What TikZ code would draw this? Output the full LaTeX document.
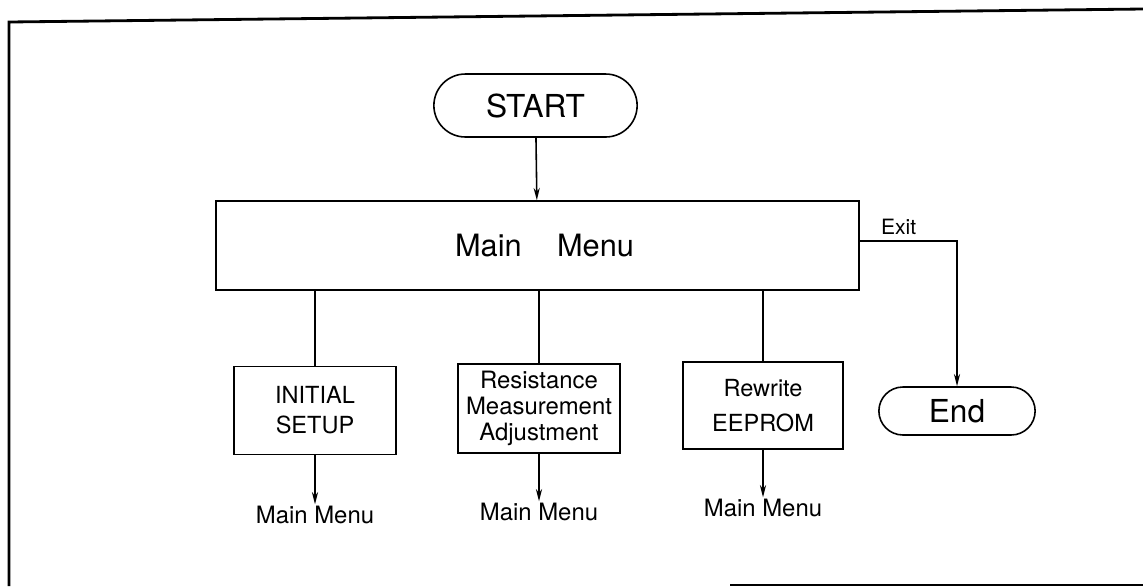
\documentclass[tikz,border=0pt]{standalone}
\usepackage{fontspec}
\setmainfont{TeX Gyre Heros}
\usepackage{tikz}
\usetikzlibrary{positioning,shapes.misc,arrows.meta,calc}
\tikzstyle{term} = [rounded rectangle, draw=black, line width=0.9pt, minimum width=4.3cm, minimum height=1.26cm, font=\fontsize{18}{20}\selectfont]
\tikzstyle{process} = [rectangle, draw=black, line width=0.9pt, minimum width=3.25cm, minimum height=1.76cm, align=center, inner sep=1pt, font=\fontsize{13.4}{17}\selectfont]
\tikzstyle{back} = [inner sep=1pt, font=\fontsize{13.6}{15}\selectfont]
\tikzstyle{arrow} = [line width=0.9pt,-{Stealth[length=7pt,width=3.5pt]}]
\tikzstyle{link} = [line width=0.9pt]

\begin{document}
\begin{tikzpicture}[x=0.02cm, y=-0.02cm]
    \useasboundingbox (0,0) rectangle (1143,586);
    % frame of the sheet
    \draw[line width=1.6pt] (9,586) -- (9,22) -- (1143,9);
    \draw[line width=1.6pt] (730,585) -- (1143,585);

    \node (start) [term] at (535.5,105.5) {START};
    \node (menu) [rectangle, draw=black, line width=0.9pt, minimum width=12.86cm, minimum height=1.78cm,
                  font=\fontsize{17.5}{19}\selectfont] at (537.5,245.5) {\hspace{8pt}Main\hspace{1.15em}Menu};
    \node (init) [process] at (315,410.5) {INITIAL\\SETUP};
    \node (resist) [process, minimum width=3.24cm, minimum height=1.78cm,
                    font=\fontsize{13.6}{14.8}\selectfont] at (539,408.5) {Resistance\\Measurement\\Adjustment};
    \node (rewrite) [process, minimum width=3.2cm, minimum height=1.74cm,
                     font=\fontsize{13.4}{20}\selectfont] at (763,405.5) {Rewrite\\EEPROM};
    \node (end) [term, minimum width=3.36cm, minimum height=0.96cm] at (957,411) {End};

    \node (back1) [back, below=0.98cm of init] {Main Menu};
    \node (back2) [back, below=0.95cm of resist] {Main Menu};
    \node (back3) [back, below=0.95cm of rewrite] {Main Menu};

    \draw[arrow] (start) -- (menu);
    \draw[link] (init.north |- menu.south) -- (init);
    \draw[link] (resist.north |- menu.south) -- (resist);
    \draw[link] (rewrite.north |- menu.south) -- (rewrite);
    \draw[arrow] (init) -- (back1);
    \draw[arrow] (resist) -- (back2);
    \draw[arrow] (rewrite) -- (back3);
    \draw[arrow] ([yshift=0.09cm]menu.east) -| node[pos=0.2, above, font=\fontsize{12}{14}\selectfont] {Exit} (end);
\end{tikzpicture}
\end{document}
